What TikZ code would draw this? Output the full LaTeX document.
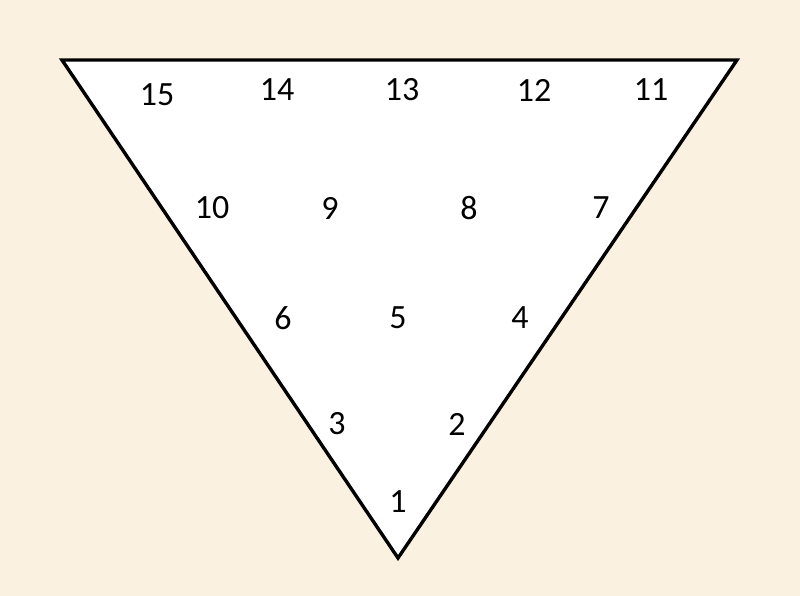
\documentclass[tikz,border=0pt]{standalone}
\usepackage{fontspec}
\setmainfont{Carlito}
\usepackage{tikz}
\usetikzlibrary{positioning, calc}
\definecolor{bgcream}{RGB}{251,241,224}

\begin{document}
\begin{tikzpicture}[x=0.03cm, y=-0.03cm,
    num/.style={font=\fontsize{29}{33}\selectfont, inner sep=0pt}]
        \fill[bgcream] (0,0) rectangle (800,596);
        \useasboundingbox (0,0) rectangle (800,596);
        \coordinate (topleft) at (62,60);
        \coordinate (topright) at (737,60);
        \coordinate (bottom) at (398,558);
        \filldraw[fill=white, line width=2.9pt, line join=miter]
            (topleft)--(topright)--(bottom)--cycle;
        % top row
        \node[num] (n15) at (157,95) {15};
        \node[num] (n14) at (277,90) {14};
        \node[num] (n13) at (402,90) {13};
        \node[num] (n12) at (534,90) {12};
        \node[num] (n11) at (651,90) {11};
        % second row
        \node[num] (n10) at (212,208) {10};
        \node[num] (n9) at (330,208) {9};
        \node[num] (n8) at (469,208) {8};
        \node[num] (n7) at (601,208) {7};
        % third row
        \node[num] (n6) at (283,318) {6};
        \node[num] (n5) at (398,318) {5};
        \node[num] (n4) at (520,318) {4};
        % fourth row
        \node[num] (n3) at (337,424) {3};
        \node[num] (n2) at (457,424) {2};
        % tip
        \node[num] (n1) at (398,502) {1};
    \end{tikzpicture}
\end{document}
